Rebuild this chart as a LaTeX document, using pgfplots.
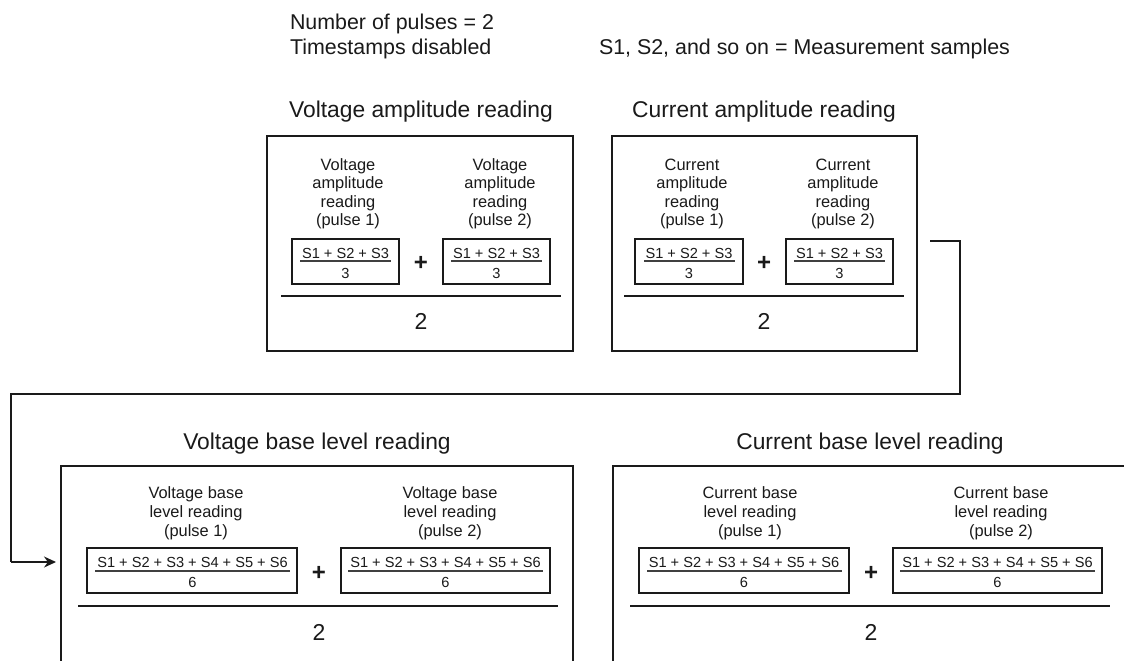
\documentclass[border=0pt]{standalone}
\usepackage{pgfplots}
\pgfplotsset{compat=1.18}
\usepackage{fontspec}
\setmainfont{Liberation Sans}
\usetikzlibrary{arrows.meta}
\newcommand{\ftop}{\fontsize{10.7}{12}\selectfont}
\newcommand{\ftitle}{\fontsize{11.4}{13}\selectfont}
\newcommand{\flab}{\fontsize{8.2}{9}\selectfont}
\newcommand{\ffrac}{\fontsize{7.3}{8}\selectfont}
\newcommand{\ftwo}{\fontsize{11.5}{13}\selectfont}
\newcommand{\fplus}{\fontsize{12}{13}\selectfont\bfseries}
\definecolor{ink}{HTML}{1A1A1A}
\tikzset{t/.style={inner sep=0pt,outer sep=0pt,text=ink}}
\begin{document}
\begin{tikzpicture}
\begin{axis}[width=562pt,height=330pt,scale only axis,
  xmin=0,xmax=1124,ymin=0,ymax=660,y dir=reverse,hide axis,clip=true]
% background (sets the bounding box)
\addplot[draw=none,fill=white] coordinates {(0,0)(1124,0)(1124,660)(0,660)(0,0)};

% ---------- header text ----------
\node[t,anchor=base west,font=\ftop] at (axis cs:290,29) {Number of pulses = 2};
\node[t,anchor=base west,font=\ftop] at (axis cs:290,54) {Timestamps disabled};
\node[t,anchor=base west,font=\ftop] at (axis cs:599,54) {S1, S2, and so on = Measurement samples};

% ---------- titles ----------
\node[t,anchor=base,font=\ftitle] at (axis cs:421,117) {Voltage amplitude reading};
\node[t,anchor=base,font=\ftitle] at (axis cs:764,117) {Current amplitude reading};
\node[t,anchor=base,font=\ftitle] at (axis cs:317,449) {Voltage base level reading};
\node[t,anchor=base,font=\ftitle] at (axis cs:870,449) {Current base level reading};

% ---------- outer boxes ----------
\addplot[ink,line width=1pt,line join=miter,line cap=rect] coordinates {(267,136)(573,136)(573,351)(267,351)(267,136)};
\addplot[ink,line width=1pt,line join=miter,line cap=rect] coordinates {(612,136)(917,136)(917,351)(612,351)(612,136)};
\addplot[ink,line width=1pt,line join=miter] coordinates {(61,700)(61,466)(573,466)(573,700)};
\addplot[ink,line width=1pt,line join=miter] coordinates {(613,700)(613,466)(1130,466)(1130,700)};

% ---------- connector ----------
\addplot[ink,line width=0.7pt,line join=miter] coordinates {(930,241)(960,241)(960,394)(11,394)(11,562)};
\addplot[ink,line width=0.7pt,-{Stealth[length=6pt,width=5.5pt]}] coordinates {(11,562)(56,562)};

% ---------- small boxes, top row ----------
\addplot[ink,line width=0.65pt,line cap=rect] coordinates {(292,239)(399,239)(399,284)(292,284)(292,239)};
\addplot[ink,line width=0.65pt,line cap=rect] coordinates {(443,239)(550,239)(550,284)(443,284)(443,239)};
\addplot[ink,line width=0.65pt,line cap=rect] coordinates {(635,239)(743,239)(743,284)(635,284)(635,239)};
\addplot[ink,line width=0.65pt,line cap=rect] coordinates {(786,239)(893,239)(893,284)(786,284)(786,239)};
% fraction lines top
\addplot[black!75,line width=0.55pt] coordinates {(300,261)(391,261)};
\addplot[black!75,line width=0.55pt] coordinates {(451,261)(542,261)};
\addplot[black!75,line width=0.55pt] coordinates {(644,261)(735,261)};
\addplot[black!75,line width=0.55pt] coordinates {(794,261)(885,261)};
% big lines top
\addplot[ink,line width=1pt] coordinates {(281,296)(561,296)};
\addplot[ink,line width=1pt] coordinates {(624,296)(904,296)};

% ---------- small boxes, bottom row ----------
\addplot[ink,line width=0.65pt,line cap=rect] coordinates {(87,548)(297,548)(297,593)(87,593)(87,548)};
\addplot[ink,line width=0.65pt,line cap=rect] coordinates {(341,548)(550,548)(550,593)(341,593)(341,548)};
\addplot[ink,line width=0.65pt,line cap=rect] coordinates {(639,548)(849,548)(849,593)(639,593)(639,548)};
\addplot[ink,line width=0.65pt,line cap=rect] coordinates {(893,548)(1102,548)(1102,593)(893,593)(893,548)};
% fraction lines bottom
\addplot[black!75,line width=0.55pt] coordinates {(95,571)(290,571)};
\addplot[black!75,line width=0.55pt] coordinates {(348,571)(543,571)};
\addplot[black!75,line width=0.55pt] coordinates {(647,571)(842,571)};
\addplot[black!75,line width=0.55pt] coordinates {(900,571)(1095,571)};
% big lines bottom
\addplot[ink,line width=1pt] coordinates {(78,606)(558,606)};
\addplot[ink,line width=1pt] coordinates {(630,606)(1110,606)};

% ---------- labels box 1 ----------
\node[t,anchor=base,font=\flab] at (axis cs:348,170) {Voltage};
\node[t,anchor=base,font=\flab] at (axis cs:348,188.5) {amplitude};
\node[t,anchor=base,font=\flab] at (axis cs:348,207) {reading};
\node[t,anchor=base,font=\flab] at (axis cs:348,225.5) {(pulse 1)};
\node[t,anchor=base,font=\flab] at (axis cs:500,170) {Voltage};
\node[t,anchor=base,font=\flab] at (axis cs:500,188.5) {amplitude};
\node[t,anchor=base,font=\flab] at (axis cs:500,207) {reading};
\node[t,anchor=base,font=\flab] at (axis cs:500,225.5) {(pulse 2)};
\node[t,anchor=base,font=\ffrac] at (axis cs:345.5,258) {S1 + S2 + S3};
\node[t,anchor=base,font=\ffrac] at (axis cs:345.5,278) {3};
\node[t,anchor=base,font=\ffrac] at (axis cs:496.5,258) {S1 + S2 + S3};
\node[t,anchor=base,font=\ffrac] at (axis cs:496.5,278) {3};
\node[t,font=\fplus] at (axis cs:421,263) {+};
\node[t,anchor=base,font=\ftwo] at (axis cs:421,329) {2};

% ---------- labels box 2 ----------
\node[t,anchor=base,font=\flab] at (axis cs:692,170) {Current};
\node[t,anchor=base,font=\flab] at (axis cs:692,188.5) {amplitude};
\node[t,anchor=base,font=\flab] at (axis cs:692,207) {reading};
\node[t,anchor=base,font=\flab] at (axis cs:692,225.5) {(pulse 1)};
\node[t,anchor=base,font=\flab] at (axis cs:843,170) {Current};
\node[t,anchor=base,font=\flab] at (axis cs:843,188.5) {amplitude};
\node[t,anchor=base,font=\flab] at (axis cs:843,207) {reading};
\node[t,anchor=base,font=\flab] at (axis cs:843,225.5) {(pulse 2)};
\node[t,anchor=base,font=\ffrac] at (axis cs:689,258) {S1 + S2 + S3};
\node[t,anchor=base,font=\ffrac] at (axis cs:689,278) {3};
\node[t,anchor=base,font=\ffrac] at (axis cs:839.5,258) {S1 + S2 + S3};
\node[t,anchor=base,font=\ffrac] at (axis cs:839.5,278) {3};
\node[t,font=\fplus] at (axis cs:764,263) {+};
\node[t,anchor=base,font=\ftwo] at (axis cs:764,329) {2};

% ---------- labels box 3 ----------
\node[t,anchor=base,font=\flab] at (axis cs:196,498) {Voltage base};
\node[t,anchor=base,font=\flab] at (axis cs:196,517) {level reading};
\node[t,anchor=base,font=\flab] at (axis cs:196,536) {(pulse 1)};
\node[t,anchor=base,font=\flab] at (axis cs:450,498) {Voltage base};
\node[t,anchor=base,font=\flab] at (axis cs:450,517) {level reading};
\node[t,anchor=base,font=\flab] at (axis cs:450,536) {(pulse 2)};
\node[t,anchor=base,font=\ffrac] at (axis cs:192.5,567) {S1 + S2 + S3 + S4 + S5 + S6};
\node[t,anchor=base,font=\ffrac] at (axis cs:192.5,587) {6};
\node[t,anchor=base,font=\ffrac] at (axis cs:445.5,567) {S1 + S2 + S3 + S4 + S5 + S6};
\node[t,anchor=base,font=\ffrac] at (axis cs:445.5,587) {6};
\node[t,font=\fplus] at (axis cs:319,573) {+};
\node[t,anchor=base,font=\ftwo] at (axis cs:319,640) {2};

% ---------- labels box 4 ----------
\node[t,anchor=base,font=\flab] at (axis cs:750,498) {Current base};
\node[t,anchor=base,font=\flab] at (axis cs:750,517) {level reading};
\node[t,anchor=base,font=\flab] at (axis cs:750,536) {(pulse 1)};
\node[t,anchor=base,font=\flab] at (axis cs:1001,498) {Current base};
\node[t,anchor=base,font=\flab] at (axis cs:1001,517) {level reading};
\node[t,anchor=base,font=\flab] at (axis cs:1001,536) {(pulse 2)};
\node[t,anchor=base,font=\ffrac] at (axis cs:744,567) {S1 + S2 + S3 + S4 + S5 + S6};
\node[t,anchor=base,font=\ffrac] at (axis cs:744,587) {6};
\node[t,anchor=base,font=\ffrac] at (axis cs:997.5,567) {S1 + S2 + S3 + S4 + S5 + S6};
\node[t,anchor=base,font=\ffrac] at (axis cs:997.5,587) {6};
\node[t,font=\fplus] at (axis cs:871,573) {+};
\node[t,anchor=base,font=\ftwo] at (axis cs:871,640) {2};
\end{axis}
\end{tikzpicture}
\end{document}
